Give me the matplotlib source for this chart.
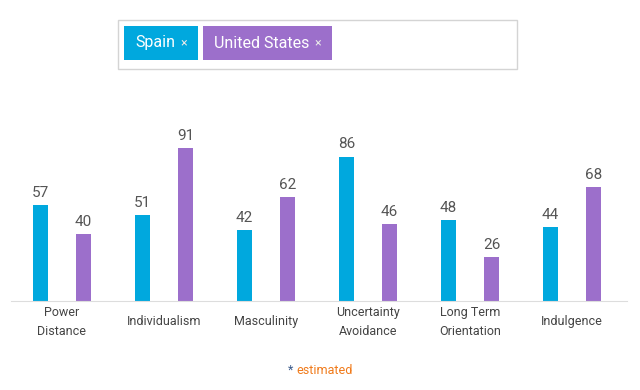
import matplotlib.pyplot as plt
from matplotlib.patches import Rectangle
import numpy as np

plt.rcParams['font.family'] = ['Roboto', 'DejaVu Sans']

categories = ['Power\nDistance', 'Individualism', 'Masculinity',
              'Uncertainty\nAvoidance', 'Long Term\nOrientation', 'Indulgence']
spain = [57, 51, 42, 86, 48, 44]
usa = [40, 91, 62, 46, 26, 68]
countries = ['Spain', 'United States']
colors = ['#00a8de', '#9c6fcb']

W, H = 640, 390
fig = plt.figure(figsize=(W / 100, H / 100), dpi=100)

# plot area in pixel terms: baseline at y=301, 100 -> y=133
ax = fig.add_axes([11 / W, 1 - 301 / H, (627 - 11) / W, 168 / H])
x = np.arange(len(categories))
off = 21.5 / 102
bw = 15 / 102
for vals, dx, c in [(spain, -off, colors[0]), (usa, off, colors[1])]:
    bars = ax.bar(x + dx, vals, width=bw, color=c)
    for b, v in zip(bars, vals):
        ax.text(b.get_x() + b.get_width() / 2, v + 3, str(v), ha='center', va='bottom',
                fontsize=11, color='#555555')

ax.set_xlim((11 - 62) / 102, (627 - 62) / 102)
ax.set_ylim(0, 100)
ax.set_yticks([])
ax.set_xticks(x)
ax.set_xticklabels(categories, fontsize=9, color='#444444', linespacing=1.55, va='center')
ax.tick_params(axis='x', length=0, pad=15)
for s in ['top', 'right', 'left']:
    ax.spines[s].set_visible(False)
ax.spines['bottom'].set_color('#dddddd')
ax.patch.set_alpha(0)

# selector box on top
def px(x0, y0, w, h):
    return (x0 / W, 1 - (y0 + h) / H), w / W, h / H

xy, w, h = px(118, 20, 399, 49)
fig.patches.append(Rectangle(xy, w, h, transform=fig.transFigure, facecolor='white',
                             edgecolor='#d4d4d4', lw=1))
chips = [(124, 74), (203, 129)]
for (cx, cw), name, c in zip(chips, countries, colors):
    xy, w, h = px(cx, 26, cw, 34)
    fig.patches.append(Rectangle(xy, w, h, transform=fig.transFigure, facecolor=c,
                                 edgecolor='none'))
    fig.text((cx + 11) / W, 1 - 43 / H, name, color='white', fontsize=11.5, va='center')
    fig.text((cx + cw - 14) / W, 1 - 43 / H, '\u00d7', color='#e8e8e8', fontsize=9,
             va='center', ha='center')

fig.text(288 / W, 1 - 370 / H, '*', color='#3a5a8a', fontsize=9, va='center')
fig.text(296 / W, 1 - 370 / H, 'estimated', color='#f07a1a', fontsize=9, va='center')

fig.savefig('out.png', dpi=100)
